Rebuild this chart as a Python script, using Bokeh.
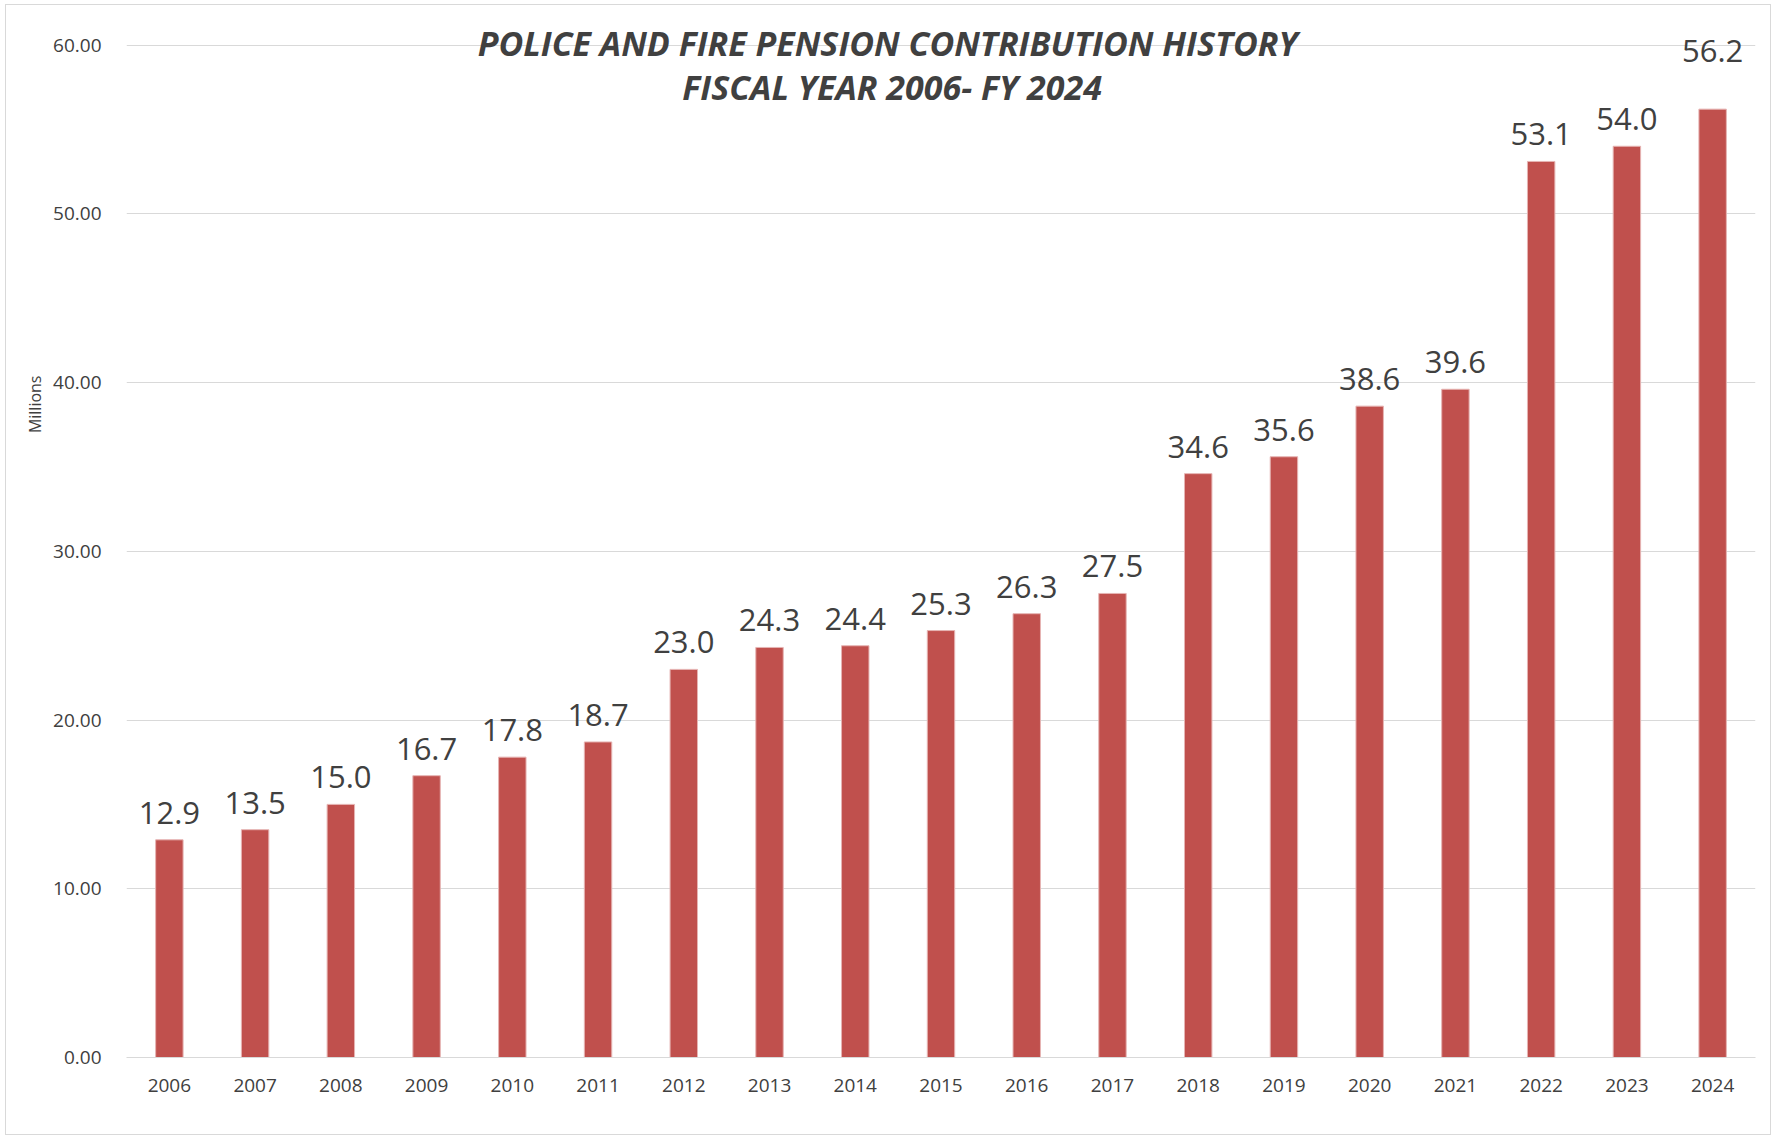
from bokeh.plotting import figure
from bokeh.models import ColumnDataSource, FactorRange, Range1d, Label, FixedTicker, NumeralTickFormatter, Title
from bokeh.core.properties import value
from bokeh.embed import file_html
from bokeh.resources import INLINE

years = [str(y) for y in range(2006, 2025)]
contributions = [12.9, 13.5, 15.0, 16.7, 17.8, 18.7, 23.0, 24.3, 24.4, 25.3,
                 26.3, 27.5, 34.6, 35.6, 38.6, 39.6, 53.1, 54.0, 56.2]
y_ticks = [0, 10, 20, 30, 40, 50, 60]
title_lines = ["POLICE AND FIRE  PENSION CONTRIBUTION HISTORY", "FISCAL YEAR 2006- FY 2024"]
y_axis_title = "Millions"

labels = [f"{v:.1f}" for v in contributions]
offsets = [-27] * len(contributions)
offsets[-1] = -58

src = ColumnDataSource(dict(year=years, val=contributions, lab=labels, off=offsets))

FONT = "Open Sans"
TXT = "#404040"

p = figure(width=1766, height=1131, x_range=FactorRange(*years, range_padding=0),
           y_range=Range1d(0, 61.156), output_backend="svg", toolbar_location=None,
           min_border_left=120, min_border_right=17, min_border_top=20, min_border_bottom=79)
p.margin = (4, 0, 0, 5)
p.styles = {"border": "1px solid #d9d9d9"}
p.outline_line_color = None
p.background_fill_color = "white"
p.border_fill_color = "white"

p.vbar(x="year", top="val", width=0.32, source=src, fill_color="#C0504D",
       line_color="#e6b4b3", line_width=1)

p.text(x="year", y="val", text="lab", y_offset="off", source=src,
       text_font=value(FONT), text_font_size="31px", text_color=TXT,
       text_align="center", text_baseline="alphabetic")

p.xgrid.grid_line_color = None
p.ygrid.grid_line_color = "#d9d9d9"
p.ygrid.grid_line_width = 1
p.yaxis.ticker = FixedTicker(ticks=y_ticks)
p.yaxis.formatter = NumeralTickFormatter(format="0.00")
p.yaxis.axis_line_color = None
p.yaxis.major_tick_line_color = None
p.yaxis.minor_tick_line_color = None
p.yaxis.major_label_standoff = 19
p.yaxis.major_label_text_font = FONT
p.yaxis.major_label_text_font_size = "19px"
p.yaxis.major_label_text_color = TXT

p.xaxis.axis_line_color = "#d9d9d9"
p.xaxis.axis_line_width = 1
p.xaxis.major_tick_line_color = None
p.xaxis.minor_tick_line_color = None
p.xaxis.major_label_standoff = 15
p.xaxis.major_label_text_font = FONT
p.xaxis.major_label_text_font_size = "19px"
p.xaxis.major_label_text_color = TXT

for txt, yv in zip(title_lines, [60.1, 57.5]):
    p.add_layout(Label(x=8.93, y=yv, text=txt, text_font=FONT,
                       text_font_size="34px", text_font_style="bold italic", text_color=TXT,
                       text_align="center", text_baseline="alphabetic"))

p.add_layout(Title(text=y_axis_title, align="right", offset=350, text_font=FONT,
                   text_font_size="16px", text_font_style="normal", text_color=TXT),
             "left")

open("out.html", "w").write(file_html(p, INLINE))
